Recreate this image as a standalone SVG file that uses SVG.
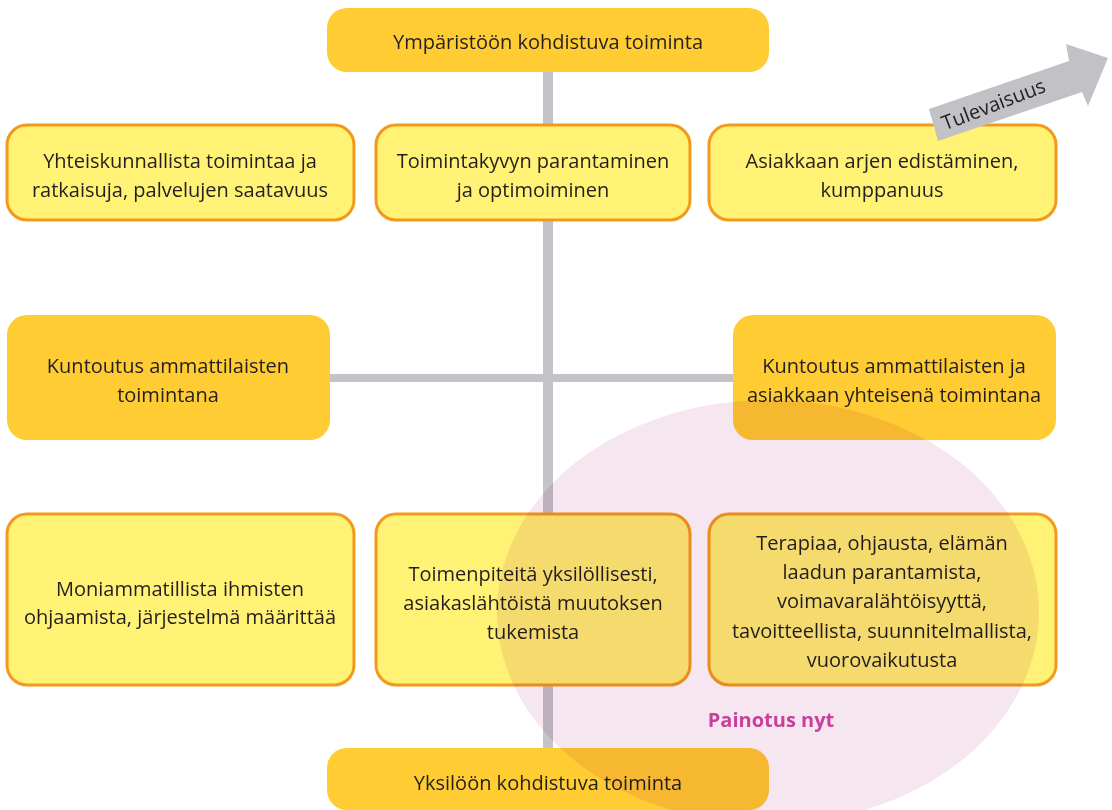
<svg xmlns="http://www.w3.org/2000/svg" width="1112" height="810" viewBox="0 0 1112 810">
<style>
.gold{fill:#FFCC33;}
.yel{fill:#FFF275;stroke:#F39A1E;stroke-width:3;}
.t{font-family:"Open Sans","Noto Sans",sans-serif;font-size:20px;fill:#231F20;text-anchor:middle;}
.ln{stroke:#C4C4C8;fill:none;}
</style>
<rect width="1112" height="810" fill="#FFFFFF"/>
<g id="connectors">
<line class="ln" x1="548" y1="60" x2="548" y2="760" stroke-width="10"/>
<line class="ln" x1="320" y1="378" x2="745" y2="378" stroke-width="8"/>
</g>
<g id="top">
<rect class="gold" x="327" y="8" width="442" height="64" rx="20"/>
<text class="t" x="548" y="49">Ympäristöön kohdistuva toiminta</text>
</g>
<g id="n1">
<rect class="yel" x="7" y="125" width="347" height="95" rx="20"/>
<text class="t" x="180" y="168">Yhteiskunnallista toimintaa ja</text>
<text class="t" x="180" y="197">ratkaisuja, palvelujen saatavuus</text>
</g>
<g id="n2">
<rect class="yel" x="376" y="125" width="314" height="95" rx="20"/>
<text class="t" x="533" y="168">Toimintakyvyn parantaminen</text>
<text class="t" x="533" y="197">ja optimoiminen</text>
</g>
<g id="n3">
<rect class="yel" x="709" y="125" width="347" height="95" rx="20"/>
<text class="t" x="882" y="168">Asiakkaan arjen edistäminen,</text>
<text class="t" x="882" y="197">kumppanuus</text>
</g>
<g id="arrow">
<polygon points="929,109 1069,61 1066,44 1108,58 1088,106 1082,92 938,141" fill="#C2C2C6"/>
<text class="t" transform="translate(996,111) rotate(-21)" font-size="19">Tulevaisuus</text>
</g>
<g id="n4">
<rect class="gold" x="7" y="315" width="323" height="125" rx="20"/>
<text class="t" x="168" y="373">Kuntoutus ammattilaisten</text>
<text class="t" x="168" y="402">toimintana</text>
</g>
<g id="n5">
<rect class="gold" x="733" y="315" width="323" height="125" rx="20"/>
<text class="t" x="894" y="373">Kuntoutus ammattilaisten ja</text>
<text class="t" x="894" y="402">asiakkaan yhteisenä toimintana</text>
</g>
<g id="n6">
<rect class="yel" x="7" y="514" width="347" height="171" rx="20"/>
<text class="t" x="180" y="596">Moniammatillista ihmisten</text>
<text class="t" x="180" y="624">ohjaamista, järjestelmä määrittää</text>
</g>
<g id="n7">
<rect class="yel" x="376" y="514" width="314" height="171" rx="20"/>
<text class="t" x="533" y="581">Toimenpiteitä yksilöllisesti,</text>
<text class="t" x="533" y="610">asiakaslähtöistä muutoksen</text>
<text class="t" x="533" y="639">tukemista</text>
</g>
<g id="n8">
<rect class="yel" x="709" y="514" width="347" height="171" rx="20"/>
<text class="t" x="882" y="550">Terapiaa, ohjausta, elämän</text>
<text class="t" x="882" y="579">laadun parantamista,</text>
<text class="t" x="882" y="608">voimavaralähtöisyyttä,</text>
<text class="t" x="882" y="638">tavoitteellista, suunnitelmallista,</text>
<text class="t" x="882" y="667">vuorovaikutusta</text>
</g>
<g id="bottom">
<rect class="gold" x="327" y="748" width="442" height="62" rx="20"/>
<text class="t" x="548" y="790">Yksilöön kohdistuva toiminta</text>
</g>
<g id="emphasis">
<ellipse cx="768" cy="612" rx="271" ry="212" fill="#F5E6F0" style="mix-blend-mode:multiply"/>
<text class="t" x="771" y="727" font-weight="bold" font-size="18" style="fill:#C8409C">Painotus nyt</text>
</g>
</svg>
